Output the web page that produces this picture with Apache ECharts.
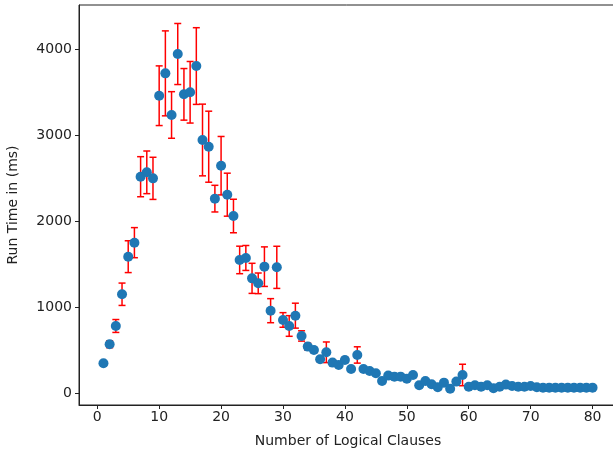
<!DOCTYPE html>
<html>
<head>
<meta charset="utf-8">
<script src="https://cdn.jsdelivr.net/npm/echarts@6/dist/echarts.min.js"></script>
<style>
  html, body { margin: 0; padding: 0; background: #fff; }
  #chart { width: 613px; height: 457px; }
</style>
</head>
<body>
<div id="chart"></div>
<script>
// number of logical clauses (x)
const clauses = [
  1, 2, 3, 4, 5, 6, 7, 8, 9, 10, 11, 12, 13, 14, 15, 16, 17, 18, 19, 20,
  21, 22, 23, 24, 25, 26, 27, 28, 29, 30, 31, 32, 33, 34, 35, 36, 37, 38, 39, 40,
  41, 42, 43, 44, 45, 46, 47, 48, 49, 50, 51, 52, 53, 54, 55, 56, 57, 58, 59, 60,
  61, 62, 63, 64, 65, 66, 67, 68, 69, 70, 71, 72, 73, 74, 75, 76, 77, 78, 79, 80
];
// mean run time in ms
const runTime = [
  345, 566, 779, 1148, 1585, 1748, 2515, 2566, 2496, 3457,
  3717, 3233, 3942, 3473, 3497, 3802, 2942, 2864, 2260, 2643,
  2306, 2058, 1547, 1570, 1333, 1275, 1469, 957, 1461, 849,
  779, 899, 663, 539, 500, 392, 473, 353, 326, 384,
  279, 442, 279, 256, 229, 140, 202, 190, 190, 165,
  209, 90, 140, 101, 66, 120, 50, 132, 209, 73,
  90, 73, 90, 54, 73, 97, 81, 73, 73, 81,
  66, 62, 62, 62, 62, 62, 62, 62, 62, 62
];
// half width of the error bar in ms
const runTimeErr = [
  20, 40, 75, 130, 185, 175, 233, 248, 245, 347,
  494, 271, 355, 300, 358, 446, 417, 413, 155, 340,
  250, 195, 160, 145, 175, 120, 230, 140, 245, 85,
  120, 145, 60, 40, 30, 30, 120, 30, 20, 30,
  20, 95, 20, 20, 15, 15, 15, 15, 15, 15,
  15, 10, 10, 10, 10, 10, 10, 10, 125, 10,
  10, 10, 10, 10, 10, 10, 10, 10, 10, 10,
  10, 10, 10, 10, 10, 10, 10, 10, 10, 10
];
const xTicks = [0, 10, 20, 30, 40, 50, 60, 70, 80];
const yTicks = [0, 1000, 2000, 3000, 4000];

const points = clauses.map((c, i) => [c, runTime[i], runTimeErr[i]]);

const chart = echarts.init(document.getElementById("chart"));
const font = "DejaVu Sans";
const ink = "#222";

chart.setOption({
  animation: false,
  grid: {
    left: 79,
    top: 5,
    right: -4,
    bottom: 52,
    outerBoundsMode: "none",
    show: true,
    borderColor: ink,
    borderWidth: 1,
  },
  xAxis: {
    type: "value",
    min: -2.95,
    max: 83.95,
    name: "Number of Logical Clauses",
    nameLocation: "middle",
    nameGap: 29,
    nameTextStyle: { fontFamily: font, fontSize: 14, color: ink },
    splitLine: { show: false },
    axisLine: { show: true, onZero: false, lineStyle: { color: ink, width: 1 } },
    axisTick: {
      show: true,
      inside: false,
      length: 4,
      customValues: xTicks,
      lineStyle: { color: ink },
    },
    axisLabel: {
      customValues: xTicks,
      fontFamily: font,
      fontSize: 14,
      color: ink,
      margin: 5,
    },
  },
  yAxis: {
    type: "value",
    min: -140,
    max: 4512,
    name: "Run Time in (ms)",
    nameLocation: "middle",
    nameGap: 59,
    nameTextStyle: { fontFamily: font, fontSize: 14, color: ink },
    splitLine: { show: false },
    axisLine: { show: true, onZero: false, lineStyle: { color: ink, width: 1 } },
    axisTick: {
      show: true,
      inside: false,
      length: 4,
      customValues: yTicks,
      lineStyle: { color: ink },
    },
    axisLabel: {
      customValues: yTicks,
      formatter: (v) => String(v),
      fontFamily: font,
      fontSize: 14,
      color: ink,
      margin: 7,
    },
  },
  series: [
    {
      name: "error",
      type: "custom",
      data: points,
      z: 2,
      renderItem(params, api) {
        const x = api.value(0);
        const y = api.value(1);
        const e = api.value(2);
        const top = api.coord([x, y + e]);
        const bot = api.coord([x, y - e]);
        const cap = 3.5;
        const style = { stroke: "#ff0000", lineWidth: 1.5 };
        return {
          type: "group",
          children: [
            { type: "line", shape: { x1: top[0], y1: top[1], x2: bot[0], y2: bot[1] }, style },
            { type: "line", shape: { x1: top[0] - cap, y1: top[1], x2: top[0] + cap, y2: top[1] }, style },
            { type: "line", shape: { x1: bot[0] - cap, y1: bot[1], x2: bot[0] + cap, y2: bot[1] }, style },
          ],
        };
      },
    },
    {
      name: "Run Time",
      type: "scatter",
      data: points.map((p) => [p[0], p[1]]),
      symbolSize: 10,
      z: 3,
      itemStyle: { color: "#1f77b4", opacity: 1 },
    },
  ],
});
</script>
</body>
</html>
